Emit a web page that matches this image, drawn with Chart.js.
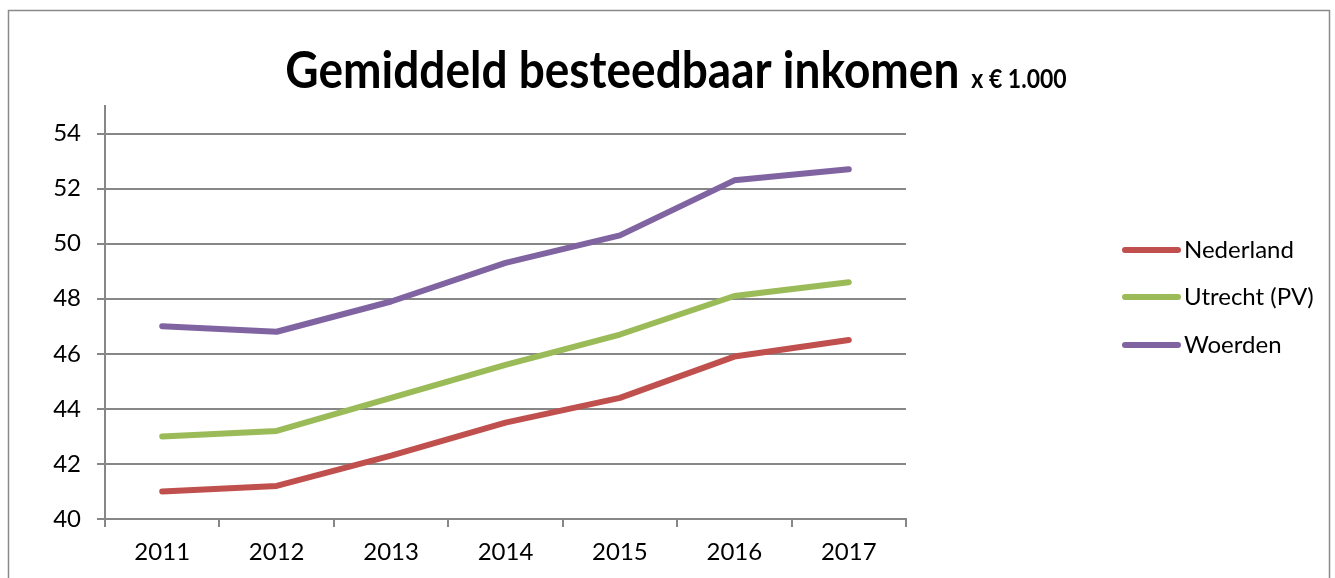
<!DOCTYPE html>
<html>
<head>
<meta charset="utf-8">
<script src="https://cdn.jsdelivr.net/npm/chart.js@4"></script>
<style>
    html, body { margin: 0; padding: 0; background: #fff; }
    #wrap { position: relative; width: 1335px; height: 578px; }
</style>
</head>
<body>
<div id="wrap"><canvas id="incomeChart" width="1335" height="578"></canvas></div>
<script>
// Data
const years = ['2011', '2012', '2013', '2014', '2015', '2016', '2017'];
const nederland = [41.0, 41.2, 42.3, 43.5, 44.4, 45.9, 46.5];
const utrecht = [43.0, 43.2, 44.4, 45.6, 46.7, 48.1, 48.6];
const woerden = [47.0, 46.8, 47.9, 49.3, 50.3, 52.3, 52.7];
const seriesNames = ['Nederland', 'Utrecht (PV)', 'Woerden'];
const titleText = 'Gemiddeld besteedbaar inkomen';
const unitText = 'x € 1.000';

const colors = ['#C0504D', '#9BBB59', '#8064A2'];
const gridColor = '#878787';
const fontFamily = 'Lato, "Open Sans", sans-serif';
const yMax = 55;

// Frame + title in two font sizes
const titlePlugin = {
    id: 'titlePlugin',
    beforeDraw(chart) {
        const ctx = chart.ctx;
        ctx.save();
        ctx.strokeStyle = '#8a8a8a';
        ctx.lineWidth = 1.5;
        ctx.strokeRect(8.5, 10.5, 1321, 620);

        ctx.fillStyle = '#000';
        ctx.textBaseline = 'alphabetic';
        ctx.font = 'bold 46px ' + fontFamily;
        const mainW = ctx.measureText(titleText).width;
        ctx.font = 'bold 23px ' + fontFamily;
        const unitW = ctx.measureText(unitText).width;
        const gap = 12;
        const x0 = 676 - (mainW + gap + unitW) / 2;
        // source picture is slightly stretched vertically
        ctx.translate(0, 88);
        ctx.scale(1, 1.12);
        ctx.font = 'bold 46px ' + fontFamily;
        ctx.fillText(titleText, x0, 0);
        ctx.font = 'bold 23px ' + fontFamily;
        ctx.fillText(unitText, x0 + mainW + gap, 0);
        ctx.restore();
    }
};

// Legend on the right, line swatches
const legendPlugin = {
    id: 'legendPlugin',
    afterDraw(chart) {
        const ctx = chart.ctx;
        const rows = [250, 297, 345];
        ctx.save();
        ctx.font = '24px ' + fontFamily;
        ctx.textBaseline = 'middle';
        chart.data.datasets.forEach((ds, i) => {
            const y = rows[i];
            ctx.strokeStyle = ds.borderColor;
            ctx.lineWidth = 6;
            ctx.lineCap = 'round';
            ctx.beginPath();
            ctx.moveTo(1125, y);
            ctx.lineTo(1178, y);
            ctx.stroke();
            ctx.fillStyle = '#000';
            ctx.fillText(ds.label, 1184, y);
        });
        ctx.restore();
    }
};

function makeDataset(label, data, color) {
    return {
        label: label,
        data: data,
        borderColor: color,
        backgroundColor: color,
        borderWidth: 6,
        borderCapStyle: 'round',
        borderJoinStyle: 'round',
        pointRadius: 0,
        pointHoverRadius: 0,
        tension: 0,
        fill: false
    };
}

const ctx = document.getElementById('incomeChart').getContext('2d');
new Chart(ctx, {
    type: 'line',
    data: {
        labels: years,
        datasets: [
            makeDataset(seriesNames[0], nederland, colors[0]),
            makeDataset(seriesNames[1], utrecht, colors[1]),
            makeDataset(seriesNames[2], woerden, colors[2])
        ]
    },
    options: {
        responsive: false,
        animation: false,
        devicePixelRatio: 1,
        layout: {
            padding: { top: 106, right: 429, bottom: 0, left: 0 }
        },
        plugins: {
            legend: { display: false },
            title: { display: false },
            tooltip: { enabled: false }
        },
        scales: {
            x: {
                offset: true,
                grid: {
                    offset: true,
                    drawOnChartArea: false,
                    drawTicks: true,
                    tickLength: 8,
                    color: gridColor,
                    lineWidth: 2
                },
                border: { display: true, color: gridColor, width: 2 },
                ticks: {
                    color: '#000',
                    font: { family: fontFamily, size: 24 },
                    padding: 11,
                    maxRotation: 0
                },
                afterFit(scale) { scale.height = 59; }
            },
            y: {
                min: 40,
                max: yMax,
                bounds: 'data',
                grid: {
                    color: (c) => (c.tick && c.tick.value === yMax) ? 'rgba(0,0,0,0)' : gridColor,
                    lineWidth: 2,
                    tickLength: 8,
                    drawTicks: true
                },
                border: { display: true, color: gridColor, width: 2 },
                ticks: {
                    stepSize: 2,
                    color: '#000',
                    font: { family: fontFamily, size: 24 },
                    padding: 16,
                    callback: (v) => v === yMax ? '' : v
                },
                afterFit(scale) { scale.width = 105; }
            }
        }
    },
    plugins: [titlePlugin, legendPlugin]
});
</script>
</body>
</html>
